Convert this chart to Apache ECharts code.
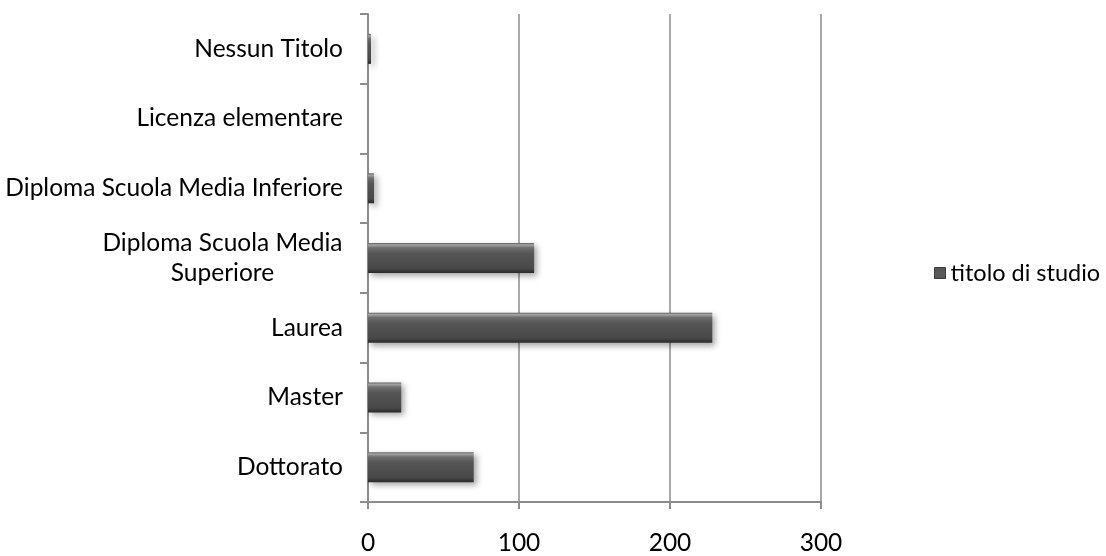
<!DOCTYPE html>
<html>
<head>
<meta charset="utf-8">
<script src="https://cdn.jsdelivr.net/npm/echarts@6/dist/echarts.min.js"></script>
<style>
  html, body { margin: 0; padding: 0; background: #fff; }
  #chart { width: 1106px; height: 556px; }
</style>
</head>
<body>
<div id="chart"></div>
<script>
// Education level counts (bottom to top on the category axis)
const categories = [
  'Dottorato',
  'Master',
  'Laurea',
  'Diploma Scuola Media\nSuperiore',
  'Diploma Scuola Media Inferiore',
  'Licenza elementare',
  'Nessun Titolo'
];
const values = [70, 22, 228, 110, 4, 0, 2];
const seriesName = 'titolo di studio';
const xTicks = { min: 0, max: 300, interval: 100 };

const FONT = 'Lato';
const FONT_SIZE = 24.5;
const AXIS_GREY = '#8c8c8c';

// width of the first line of the wrapped label, so both lines can be centred on each other
const measure = document.createElement('canvas').getContext('2d');
measure.font = FONT_SIZE + 'px ' + FONT;
const wrapWidth = Math.ceil(measure.measureText('Diploma Scuola Media').width);

// bar fill: light top edge, dark body, darker bottom edge
const barGradient = new echarts.graphic.LinearGradient(0, 0, 0, 1, [
  { offset: 0, color: '#5a5a5a' },
  { offset: 0.06, color: '#a4a4a4' },
  { offset: 0.16, color: '#6e6e6e' },
  { offset: 0.35, color: '#555555' },
  { offset: 0.85, color: '#484848' },
  { offset: 1, color: '#2a2a2a' }
]);

const chart = echarts.init(document.getElementById('chart'), null, { renderer: 'canvas' });
chart.setOption({
  animation: false,
  backgroundColor: '#fff',
  textStyle: { fontFamily: FONT },
  grid: { left: 368, right: 285, top: 14, bottom: 49, containLabel: false },
  legend: {
    left: 934,
    top: 261,
    padding: 0,
    itemWidth: 11,
    itemHeight: 11,
    icon: 'rect',
    textStyle: { fontFamily: FONT, fontSize: 23.5, color: '#000' },
    itemStyle: { color: '#585858', borderColor: '#3a3a3a', borderWidth: 1 },
    data: [seriesName]
  },
  xAxis: {
    type: 'value',
    min: xTicks.min,
    max: xTicks.max,
    interval: xTicks.interval,
    axisLine: { show: true, lineStyle: { color: AXIS_GREY, width: 2 } },
    axisTick: { show: true, length: 7, lineStyle: { color: AXIS_GREY, width: 2 } },
    splitLine: { show: true, lineStyle: { color: AXIS_GREY, width: 1.5 } },
    axisLabel: { fontFamily: FONT, fontSize: FONT_SIZE, color: '#000', margin: 29 }
  },
  yAxis: {
    type: 'category',
    data: categories,
    axisLine: { show: true, lineStyle: { color: AXIS_GREY, width: 2 } },
    axisTick: { show: true, length: 8, lineStyle: { color: AXIS_GREY, width: 2 } },
    splitLine: { show: false },
    axisLabel: {
      fontFamily: FONT,
      fontSize: FONT_SIZE,
      color: '#000',
      margin: 25,
      lineHeight: 30,
      formatter: function (v) {
        if (v.indexOf('\n') >= 0) {
          return v.split('\n').map(function (s) { return '{c|' + s + '}'; }).join('\n');
        }
        return v;
      },
      rich: {
        c: { width: wrapWidth, align: 'center', fontFamily: FONT, fontSize: FONT_SIZE, color: '#000', lineHeight: 30 }
      }
    }
  },
  series: [{
    name: seriesName,
    type: 'bar',
    data: values,
    barWidth: 30,
    itemStyle: {
      color: barGradient,
      borderWidth: 0,
      shadowColor: 'rgba(0,0,0,0.35)',
      shadowBlur: 6,
      shadowOffsetX: 3,
      shadowOffsetY: 3
    }
  }]
});
</script>
</body>
</html>
